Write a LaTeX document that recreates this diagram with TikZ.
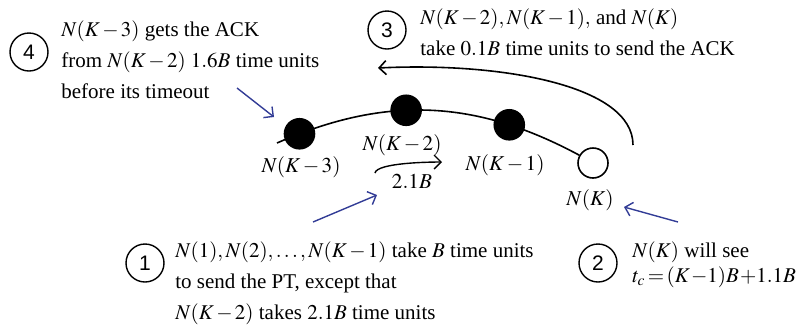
\documentclass[tikz,border=0pt]{standalone}
\usepackage{mathptmx}
\usepackage{fontspec}
\setmainfont{Liberation Serif}
\newfontfamily\numfont{Liberation Sans}
\usepackage{xcolor}
\usetikzlibrary{arrows.meta,positioning}
\definecolor{hintblue}{RGB}{50,60,150}
\newcommand{\tightmath}{\medmuskip=2mu\thickmuskip=3mu\thinmuskip=2mu}

\begin{document}
\begin{tikzpicture}[x=0.5pt,y=0.5pt,
  peer/.style={circle,draw,line width=0.8pt,minimum size=15pt,inner sep=0pt},
  busy/.style={peer,fill=black},
  idle/.style={peer,fill=white},
  stepnum/.style={circle,draw,line width=0.7pt,minimum size=19pt,inner sep=0pt,
                  font=\numfont\fontsize{10.5}{12}\selectfont},
  note/.style={align=left,anchor=west,inner sep=0pt,
               font=\fontsize{10.5}{15.5}\selectfont\tightmath},
  tag/.style={inner sep=0pt,font=\fontsize{10.6}{13}\selectfont\tightmath},
  hint/.style={->,draw=hintblue,line width=0.7pt},
  >={Straight Barb[length=3.5pt,width=7pt]}]
\useasboundingbox (0,0) rectangle (803,-328);
% peers on the path
\node[idle] (nK) at (593,-163) {};
\coordinate (tail) at (277,-143);
\draw[line width=0.8pt] (tail) to[bend left=26]
  node[busy,pos=0.07] (n3) {} node[busy,pos=0.42] (n2) {} node[busy,pos=0.77] (n1) {} (nK);
\node[tag] (t3) at (301,-167) {$N(K-3)$};
\node[tag] (t2) at (402,-145) {$N(K-2)$};
\node[tag] (t1) at (505,-165) {$N(K-1)$};
\node[tag] (tK) at (590,-200) {$N(K)$};
% PT delay and ACK return
\coordinate (pt1) at (375,-173); \coordinate (pt2) at (442,-162);
\draw[->,line width=0.7pt] (pt1) to[out=80,in=180,looseness=0.4] (pt2);
\node[tag] (dl) at (412,-181) {$2.1B$};
\coordinate (ack1) at (633,-145); \coordinate (ack2) at (378,-68);
\draw[->,line width=0.8pt] (ack1) .. controls +(0,60) and +(122,6) .. (ack2);
% numbered notes
\node[stepnum] (s4) at (29,-52) {4};
\node[note] (c4) at (61,-60) {$N(K-3)$ gets the ACK\\from $N(K-2)$ $1.6B$ time units\\before its timeout};
\node[stepnum] (s3) at (387,-30) {3};
\node[note] (c3) at (420,-32) {$N(K-2),N(K-1),$ and $N(K)$\\take $0.1B$ time units to send the ACK};
\node[stepnum] (s1) at (145,-263) {1};
\node[note] (c1) at (175,-283) {$N(1),N(2),\ldots,N(K-1)$ take $B$ time units\\to send the PT, except that\\$N(K-2)$ takes $2.1B$ time units};
\node[stepnum] (s2) at (598,-263) {2};
\node[note] (c2) at (632,-265) {$N(K)$ will see\\[-3pt]$t_c\mkern2mu{=}\mkern2mu(K\mkern1mu{-}1)B\mkern1mu{+}1.1B$};
% pointers
\coordinate (h4a) at (237,-88); \coordinate (h4b) at (274,-117);
\coordinate (h1a) at (313,-222); \coordinate (h1b) at (377,-195);
\coordinate (h2a) at (678,-222); \coordinate (h2b) at (624,-207);
\draw[hint] (h4a)--(h4b); \draw[hint] (h1a)--(h1b); \draw[hint] (h2a)--(h2b);
\end{tikzpicture}
\end{document}
